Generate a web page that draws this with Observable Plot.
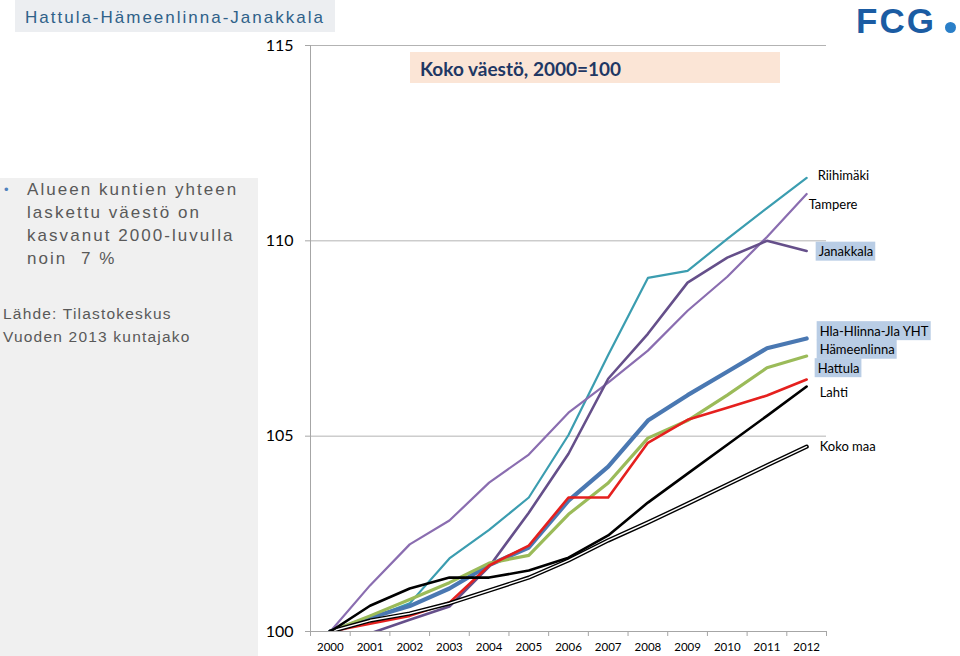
<!DOCTYPE html>
<html><head><meta charset="utf-8">
<script src="https://cdn.jsdelivr.net/npm/d3@7"></script>
<script src="https://cdn.jsdelivr.net/npm/@observablehq/plot@0.6"></script>
<style>
html,body{margin:0;padding:0}
body{width:960px;height:656px;overflow:hidden;background:#fff;position:relative;font-family:"Liberation Sans",Arial,sans-serif}
#chart{position:absolute;left:0;top:0;z-index:0}
.title{position:absolute;left:15px;top:0;width:320px;height:32px;background:#eceef1;color:#2f6189;font-size:17px;letter-spacing:2px;line-height:35px;padding-left:10px;box-sizing:border-box;z-index:1;white-space:nowrap}
.panel{position:absolute;left:0;top:178px;width:258px;height:478px;background:#f0f0f0;z-index:1;color:#595959}
.bullet{position:absolute;left:4px;top:4px;color:#4f81bd;font-size:13px}
.main{position:absolute;left:27px;top:0;font-size:17px;letter-spacing:2.05px;line-height:23px;white-space:nowrap}
.src{position:absolute;left:3px;top:124px;font-size:15.5px;letter-spacing:1.2px;line-height:23px;white-space:nowrap}
.sub{position:absolute;left:410px;top:52px;width:370px;height:31px;background:#fbe5d6;z-index:1;color:#1f3864;font-family:Lato,sans-serif;font-weight:bold;font-size:19px;line-height:33px;padding-left:10px;box-sizing:border-box}
.logo{position:absolute;left:856px;top:3px;color:#1b5ca3;font-family:"Liberation Sans",Arial,sans-serif;font-weight:bold;font-size:35px;letter-spacing:2px;z-index:1;line-height:36px}
.dot{position:absolute;left:945px;top:22px;width:11px;height:11px;border-radius:50%;background:#2a7fc8;z-index:1}
</style>
</head><body>
<div id="chart"></div>
<div class="title">Hattula-Hämeenlinna-Janakkala</div>
<div class="panel">
  <div class="bullet">•</div>
  <div class="main">Alueen kuntien yhteen<br>laskettu väestö on<br>kasvanut 2000-luvulla<br>noin&nbsp; 7 %</div>
  <div class="src">Lähde: Tilastokeskus<br>Vuoden 2013 kuntajako</div>
</div>
<div class="sub">Koko väestö, 2000=100</div>
<div class="logo">FCG</div>
<div class="dot"></div>
<script>
const years = [2000,2001,2002,2003,2004,2005,2006,2007,2008,2009,2010,2011,2012];
const riihimaki   = [100,100.33,100.72,101.87,102.60,103.43,105.03,107.08,109.05,109.23,110.05,110.84,111.61];
const tampere     = [100,101.18,102.23,102.84,103.81,104.53,105.60,106.37,107.19,108.21,109.08,110.10,111.20];
const janakkala   = [100,99.95,100.30,100.64,101.66,103.04,104.55,106.47,107.62,108.93,109.57,110.00,109.74];
const hlaYht      = [100,100.35,100.65,101.10,101.70,102.15,103.35,104.22,105.40,106.05,106.65,107.25,107.50];
const hameenlinna = [100,100.40,100.82,101.25,101.75,101.95,103.00,103.80,104.95,105.40,106.05,106.75,107.05];
const hattula     = [100,100.20,100.40,100.74,101.69,102.20,103.43,103.43,104.83,105.42,105.73,106.04,106.45];
const lahti       = [100,100.66,101.10,101.38,101.38,101.56,101.89,102.46,103.30,104.04,104.78,105.52,106.27];
const kokoMaa     = [100,100.28,100.46,100.72,101.05,101.38,101.82,102.33,102.79,103.27,103.76,104.25,104.73];
const yTicks = [100,105,110,115];
const gridTicks = [105,110,115];

const seriesList = [
  {name:"Riihimäki", values:riihimaki, color:"#3b9db0", width:2.2, dx:11, dy:-2},
  {name:"Tampere", values:tampere, color:"#8a6db0", width:2.2, dx:2, dy:11},
  {name:"Janakkala", values:janakkala, color:"#654f8a", width:2.6, dx:12, dy:1, hl:true},
  {name:"Hla-Hlinna-Jla YHT", values:hlaYht, color:"#4a78b2", width:4.2, dx:13, dy:-7, hl:true},
  {name:"Hämeenlinna", values:hameenlinna, color:"#9bbb59", width:3.2, dx:13, dy:-6, hl:true},
  {name:"Hattula", values:hattula, color:"#e5201e", width:2.6, dx:11, dy:-11, hl:true},
  {name:"Koko maa", values:kokoMaa, color:"#000", width:4.2, dx:13, dy:0, double:true},
  {name:"Lahti", values:lahti, color:"#000", width:2.6, dx:13, dy:6}
];
const rows = s => years.map((y,i)=>({year:y, value:s.values[i], name:s.name}));
const boundaries = [...years.map(y=>y-0.5), years[years.length-1]+0.5];

const marks = [
  Plot.gridY(gridTicks, {stroke:"#b3b3b3", strokeOpacity:1}),
  Plot.axisY({ticks:yTicks, tickSize:5, tickPadding:12, fontSize:16, stroke:"#a6a6a6", label:null, tickFormat:d=>String(d)}),
  Plot.axisX({ticks:years, tickSize:0, tickPadding:11, fontSize:11.5, label:null, tickFormat:d=>String(d)}),
  Plot.axisX({ticks:boundaries, tickSize:5, tickFormat:()=>"", stroke:"#a6a6a6", label:null}),
  Plot.ruleX([boundaries[0]], {stroke:"#a6a6a6"}),
  Plot.ruleY([yTicks[0]], {stroke:"#a6a6a6"})
];
for (const s of seriesList) {
  const d = rows(s);
  if (s.double) {
    marks.push(Plot.line(d, {x:"year", y:"value", stroke:"#000", strokeWidth:s.width, clip:true}));
    marks.push(Plot.line(d, {x:"year", y:"value", stroke:"#fff", strokeWidth:1.4, clip:true}));
  } else {
    marks.push(Plot.line(d, {x:"year", y:"value", stroke:s.color, strokeWidth:s.width, clip:true}));
  }
}
for (const s of seriesList) {
  const last = rows(s)[years.length-1];
  marks.push(Plot.text([last], {x:"year", y:"value", text:"name", dx:s.dx, dy:s.dy, textAnchor:"start", fontSize:13, fill:"#000", fontFamily:"Lato, sans-serif"}));
}

const chart = Plot.plot({
  width:960, height:656,
  marginLeft:310, marginRight:134, marginTop:45, marginBottom:25,
  style:{background:"transparent", fontFamily:"Lato, sans-serif", color:"#000", overflow:"visible"},
  x:{domain:[boundaries[0], boundaries[boundaries.length-1]]},
  y:{domain:[yTicks[0], yTicks[yTicks.length-1]]},
  marks
});
document.getElementById("chart").appendChild(chart);

// highlight backgrounds behind selected labels
const hlNames = new Set(seriesList.filter(s=>s.hl).map(s=>s.name));
const ns = "http://www.w3.org/2000/svg";
chart.querySelectorAll("text").forEach(t=>{
  if (hlNames.has(t.textContent)) {
    const b = t.getBoundingClientRect();
    const r = document.createElementNS(ns, "rect");
    r.setAttribute("x", b.x - 3);
    r.setAttribute("y", b.y - 1.5);
    r.setAttribute("width", b.width + 5);
    r.setAttribute("height", b.height + 3);
    r.setAttribute("fill", "#b9cde5");
    let g = t; while (g.parentNode !== chart) g = g.parentNode;
    chart.insertBefore(r, g);
  }
});
</script>
</body></html>
